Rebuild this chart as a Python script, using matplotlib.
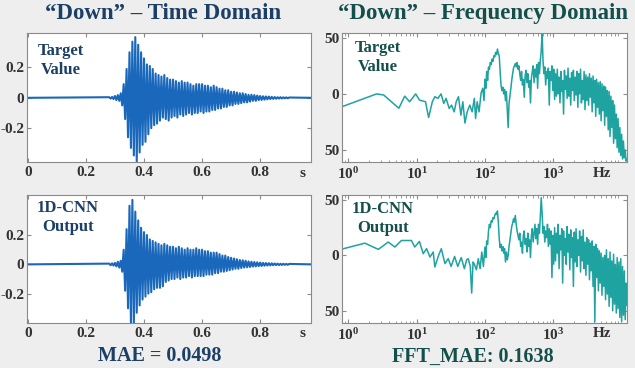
import numpy as np
import matplotlib
matplotlib.use("Agg")
import matplotlib.pyplot as plt
from matplotlib.patches import Rectangle
from matplotlib.ticker import FixedLocator, LogLocator, NullFormatter
from matplotlib.transforms import blended_transform_factory

# ---------------- data ----------------
# time domain, samples every 5 ms starting at 0.28 s (flat zero elsewhere)
wave_start = 0.28
wave_dt = 0.005
wave_end = 0.975

target_wave = [
    0.004, -0.005, 0.006, -0.008, 0.012, -0.015, 0.018, -0.02, 0.03, -0.05,
    0.09, -0.14, 0.19, -0.26, 0.30, -0.33, 0.37, -0.38, 0.40, -0.42,
    0.35, -0.36, 0.30, -0.31, 0.26, -0.29, 0.22, -0.24, 0.21, -0.20,
    0.19, -0.18, 0.16, -0.17, 0.15, -0.15, 0.14, -0.13, 0.15, -0.14,
    0.13, -0.15, 0.12, -0.13, 0.12, -0.12, 0.11, -0.13, 0.10, -0.11,
    0.11, -0.12, 0.10, -0.11, 0.10, -0.10, 0.09, -0.11, 0.08, -0.10,
    0.09, -0.10, 0.09, -0.09, 0.09, -0.10, 0.08, -0.09, 0.08, -0.09,
    0.07, -0.08, 0.08, -0.08, 0.07, -0.07, 0.06, -0.07, 0.06, -0.06,
    0.05, -0.06, 0.05, -0.05, 0.04, -0.05, 0.04, -0.04, 0.035, -0.04,
    0.03, -0.035, 0.03, -0.03, 0.025, -0.03, 0.02, -0.025, 0.02, -0.02,
    0.018, -0.02, 0.015, -0.015, 0.012, -0.014, 0.01, -0.012, 0.009, -0.01,
    0.008, -0.008, 0.006, -0.007, 0.005, -0.006, 0.004, -0.005, 0.004, -0.004,
    0.003, -0.003, 0.003, -0.003, 0.002,
]

cnn_wave = [
    0.005, -0.006, 0.007, -0.008, 0.010, -0.014, 0.018, -0.022, 0.025, -0.05,
    0.10, -0.18, 0.24, -0.30, 0.40, -0.40, 0.44, -0.40, 0.36, -0.33,
    0.30, -0.28, 0.25, -0.24, 0.22, -0.22, 0.20, -0.20, 0.17, -0.19,
    0.16, -0.17, 0.15, -0.16, 0.14, -0.16, 0.13, -0.15, 0.14, -0.12,
    0.13, -0.11, 0.12, -0.10, 0.12, -0.10, 0.11, -0.09, 0.12, -0.10,
    0.11, -0.09, 0.10, -0.09, 0.11, -0.08, 0.10, -0.09, 0.10, -0.08,
    0.11, -0.08, 0.10, -0.08, 0.10, -0.08, 0.09, -0.07, 0.09, -0.07,
    0.08, -0.07, 0.08, -0.06, 0.08, -0.06, 0.07, -0.05, 0.06, -0.05,
    0.06, -0.045, 0.05, -0.04, 0.045, -0.035, 0.04, -0.03, 0.035, -0.03,
    0.03, -0.025, 0.028, -0.022, 0.025, -0.02, 0.02, -0.018, 0.018, -0.015,
    0.016, -0.014, 0.014, -0.012, 0.012, -0.011, 0.01, -0.009, 0.009, -0.008,
    0.008, -0.007, 0.007, -0.006, 0.006, -0.005, 0.005, -0.005, 0.004, -0.004,
    0.004, -0.003, 0.003, -0.003, 0.003,
]

# frequency domain: sparse low part (Hz, value) + dense part on a log grid 100..12000 Hz
target_low_f = [0.82, 2.6, 3.3, 5.5, 6.7, 7.9, 9.7, 11, 13.5, 15, 17, 18.5, 20.5, 22.8,
                25, 27, 30, 32.5, 35.5, 38, 41, 44.5, 47.5, 51, 55, 60, 65, 70, 73, 77,
                82, 88, 93, 97]
target_low_v = [-11.3, 0, -1, -12.8, -2, -7, 0, -5.5, -7, -21, -7, -2.5, -4, 0,
                -8.5, -4, -13, -10, -16, -7, -2.5, -19, -7, -26, -16, -10, -16, -4, -22, -7,
                -16, 1, 5, -6]

cnn_low_f = [0.85, 1.75, 2.75, 3.85, 4.8, 6.0, 8.4, 9.4, 11, 12.5, 14, 15.7, 17.5, 18.5,
             21, 23, 26, 29, 32, 36, 40, 45, 50, 54, 57, 61, 64, 67, 70, 75, 80, 85, 90, 95]
cnn_low_v = [6, 11, 5.4, 12, 7.5, 13.4, 13.4, 7.5, 12.5, 1.5, 6, -1.5, 3, -10.5,
             0, 6, -7.5, -3, -10, -1, -10, -2, -12, -4, -3, -10, -34, -6, -8, -13, -3, -12, 3, -10]

dense_f_min, dense_f_max, dense_n = 100, 12000, 160

target_dense = [
    13, 5, 20, 12, 24, 22, 28, 26, 31, 29, 34, 33, 37, 35, 40, 36, 34, 20, 8, 3,
    6, 0, 4, -6, 2, -14, -30, -8, -2, 5, 12, 18, 23, 25, 27, 24, 28, 22, 25, 18,
    12, 20, 8, 13, -3, 16, 21, 10, 18, 6, 12, -8, 14, 20, 25, 10, 22, 15, 26, 5,
    28, 18, 30, 38, 55, 30, 18, 24, 8, 20, 14, 23, -10, 20, 12, 25, 3, 22, -5,
    18, -2, 22, 0, 15, -8, 20, 2, 12, -18, 21, 4, 16, -4, 23, -2, 14, -10, 19, 3,
    21, -6, 15, -1, 20, -12, 18, 0, 22, -8, 12, -5, 20, -14, 17, -6, 15, -10, 18, -3,
    14, -16, 16, -8, 12, -20, 13, -12, 10, -18, 11, -24, 9, -15, 7, -28, 6, -20, 3, -32,
    2, -38, -2, -30, -6, -44, -10, -40, -18, -48, -22, -52, -30, -55, -36, -58, -42, -57, -50, -60,
    -58,
]

cnn_dense = [
    7.5, -2, 13, 10, 22, 28, 25, 31, 30, 34, 33, 36, 38, 37, 40, 30, 15, 7, 10, 4,
    8, 2, 6, -6, 3, -4, 0, 8, 14, 20, 26, 29, 33, 30, 36, 28, 22, 18, 14, 20,
    8, 12, 2, 18, 22, 10, 15, 3, 20, 8, 14, -2, 18, 24, 12, 20, 28, 15, 24, 10,
    28, 20, 35, 52, 38, 20, 26, 12, 22, 16, 28, 8, 24, 10, 22, -20, 18, -8,
    25, -5, 20, 2, 28, -12, 18, 5, 24, -25, 22, 0, 15, -8, 26, 3, 19, -13, 23, -2,
    16, -28, 21, -6, 24, -10, 14, 0, 22, -15, 17, -5, 23, -12, 12, -18, 16, -8, 14, -22,
    11, -14, 13, -28, 8, -60, 10, -20, 6, -32, 4, -25, 2, -36, -2, -28, 0, -40, 5, -35,
    -3, -46, 3, -38, -5, -50, 1, -44, -8, -52, -2, -48, -6, -56, -3, -60, -10, -54, -14, -58,
    -25, -45,
]

mae_text = "MAE = 0.0498"
fft_mae_text = "FFT_MAE: 0.1638"

# ---------------- styling ----------------
plt.rcParams['font.family'] = ['Liberation Serif', 'DejaVu Serif']
plt.rcParams['font.weight'] = 'bold'
plt.rcParams['mathtext.fontset'] = 'custom'
plt.rcParams['mathtext.rm'] = 'Liberation Serif:bold'
plt.rcParams['mathtext.bf'] = 'Liberation Serif:bold'

bg = '#eeeeee'
navy = '#1b3f66'
teal_dark = '#134f4b'
wave_color = '#1a68bb'
spec_color = '#1ea3a0'
spine_color = '#8a8a8a'
tick_color = '#333333'
tick_size = 11


def wave_xy(values):
    t = wave_start + wave_dt * np.arange(len(values))
    t = np.concatenate([[0.0], t, [wave_end]])
    v = np.concatenate([[0.0], values, [0.0]])
    return t, v


def spec_xy(low_f, low_v, dense):
    f_dense = np.geomspace(dense_f_min, dense_f_max, dense_n)
    return np.concatenate([low_f, f_dense]), np.concatenate([low_v, dense])


def style_axes(ax):
    for sp in ax.spines.values():
        sp.set_color(spine_color)
        sp.set_linewidth(0.8)
    ax.tick_params(which='both', direction='in', top=True, right=True,
                   color=spine_color, labelcolor=tick_color, labelsize=tick_size)
    ax.tick_params(which='major', length=3)
    ax.tick_params(which='minor', length=1.8)
    ax.tick_params(axis='x', pad=3)
    ax.tick_params(axis='y', pad=2)


def time_axes(ax, values, ylim, label):
    t, v = wave_xy(values)
    ax.plot(t, v, color=wave_color, lw=1.5)
    ax.set_xlim(-0.003, wave_end)
    ax.set_ylim(*ylim)
    ax.set_xticks([0, 0.2, 0.4, 0.6, 0.8])
    ax.set_xticklabels(['0', '0.2', '0.4', '0.6', '0.8'])
    ax.set_yticks([-0.2, 0, 0.2])
    ax.set_yticklabels(['-0.2', '0', '0.2'])
    style_axes(ax)
    tr = blended_transform_factory(ax.transData, ax.transAxes)
    ax.text(0.945, -0.035, 's', transform=tr, ha='center', va='top',
            fontsize=tick_size, color=tick_color)
    ax.text(label[1], label[2], label[0], transform=ax.transAxes, ha='center', va='center',
            fontsize=12, color=navy, linespacing=1.25)


def freq_axes(ax, f, v, label):
    ax.plot(f, v, color=spec_color, lw=1.1)
    ax.set_xscale('log')
    ax.set_xlim(0.81, 12000)
    ax.set_ylim(-61, 54)
    ax.xaxis.set_major_locator(FixedLocator([1, 10, 100, 1000]))
    ax.set_xticklabels([r'$\mathbf{10^{0}}$', r'$\mathbf{10^{1}}$',
                        r'$\mathbf{10^{2}}$', r'$\mathbf{10^{3}}$'])
    ax.xaxis.set_minor_locator(LogLocator(base=10, subs=np.arange(2, 10), numticks=20))
    ax.xaxis.set_minor_formatter(NullFormatter())
    ax.set_yticks([-50, 0, 50])
    ax.set_yticklabels(['50', '0', '50'])
    style_axes(ax)
    tr = blended_transform_factory(ax.transData, ax.transAxes)
    ax.text(5250, -0.035, 'Hz', transform=tr, ha='center', va='top',
            fontsize=tick_size, color=tick_color)
    ax.text(label[1], label[2], label[0], transform=ax.transAxes, ha='center', va='center',
            fontsize=12, color=teal_dark, linespacing=1.25)


# ---------------- figure ----------------
fig = plt.figure(figsize=(6.35, 3.76), dpi=100, facecolor=bg)
fig.patches.append(Rectangle((0, 0), 1, 8 / 376, transform=fig.transFigure,
                             facecolor='white', edgecolor='none', zorder=-1))

ax_tl = fig.add_axes([0.0425, 0.5683, 0.4472, 0.3431])
ax_bl = fig.add_axes([0.0425, 0.1410, 0.4472, 0.3391])
ax_tr = fig.add_axes([0.5386, 0.5683, 0.4488, 0.3431])
ax_br = fig.add_axes([0.5386, 0.1410, 0.4488, 0.3391])

time_axes(ax_tl, target_wave, (-0.425, 0.425), ("Target\nValue", 0.12, 0.79))
time_axes(ax_bl, cnn_wave, (-0.40, 0.47), ("1D-CNN\nOutput", 0.144, 0.824))

tf, tv = spec_xy(target_low_f, target_low_v, target_dense)
freq_axes(ax_tr, tf, tv, ("Target\nValue", 0.126, 0.81))
cf, cv = spec_xy(cnn_low_f, cnn_low_v, cnn_dense)
freq_axes(ax_br, cf, cv, ("1D-CNN\nOutput", 0.144, 0.816))

fig.text(0.257, 0.963, "\u201cDown\u201d \u2013 Time Domain", ha='center', va='center',
         fontsize=16.5, color=navy)
fig.text(0.761, 0.963, "\u201cDown\u201d \u2013 Frequency Domain", ha='center', va='center',
         fontsize=16.5, color=teal_dark)
fig.text(0.252, 0.052, mae_text, ha='center', va='center', fontsize=14.5, color=navy)
fig.text(0.745, 0.052, fft_mae_text, ha='center', va='center', fontsize=14.5, color=teal_dark)

fig.savefig("out.png", dpi=100, facecolor=bg)
